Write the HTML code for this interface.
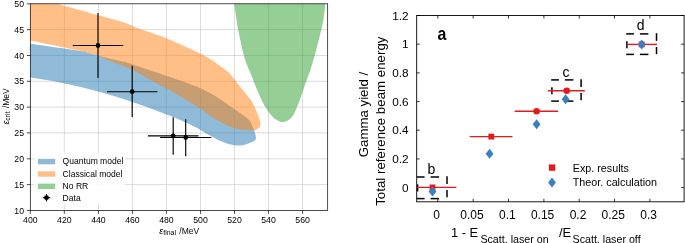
<!DOCTYPE html>
<html><head><meta charset="utf-8"><title>chart</title>
<style>
html,body{margin:0;padding:0;background:#fff;}
body{width:685px;height:243px;overflow:hidden;}
svg{display:block;opacity:0.999;will-change:transform;}
text{font-family:"Liberation Sans",sans-serif;fill:#000;}
</style></head><body>
<svg width="685" height="243" viewBox="0 0 685 243">
<rect width="685" height="243" fill="#fff"/>
<defs><clipPath id="cl"><rect x="30.3" y="3.8" width="297.4" height="206.6"/></clipPath></defs>

<g stroke="#b0b0b0" stroke-width="0.6" opacity="0.75">
<line x1="64.3" y1="3.8" x2="64.3" y2="210.4"/>
<line x1="98.4" y1="3.8" x2="98.4" y2="210.4"/>
<line x1="132.4" y1="3.8" x2="132.4" y2="210.4"/>
<line x1="166.4" y1="3.8" x2="166.4" y2="210.4"/>
<line x1="200.5" y1="3.8" x2="200.5" y2="210.4"/>
<line x1="234.5" y1="3.8" x2="234.5" y2="210.4"/>
<line x1="268.5" y1="3.8" x2="268.5" y2="210.4"/>
<line x1="302.6" y1="3.8" x2="302.6" y2="210.4"/>
<line x1="30.3" y1="184.6" x2="327.7" y2="184.6"/>
<line x1="30.3" y1="158.8" x2="327.7" y2="158.8"/>
<line x1="30.3" y1="132.9" x2="327.7" y2="132.9"/>
<line x1="30.3" y1="107.1" x2="327.7" y2="107.1"/>
<line x1="30.3" y1="81.3" x2="327.7" y2="81.3"/>
<line x1="30.3" y1="55.5" x2="327.7" y2="55.5"/>
<line x1="30.3" y1="29.6" x2="327.7" y2="29.6"/>
</g>
<g clip-path="url(#cl)">
<path d="M24.0,43.0C32.9,44.3 65.4,48.6 77.4,50.6C89.4,52.6 90.5,53.8 95.9,55.1C101.3,56.5 105.2,57.6 110.0,58.7C114.8,59.9 120.2,60.7 125.0,62.0C129.8,63.3 131.7,64.1 138.8,66.5C145.9,68.9 157.6,72.7 167.6,76.2C177.6,79.7 191.7,84.6 198.8,87.4C205.9,90.2 206.4,91.1 210.0,93.1C213.6,95.1 216.9,97.0 220.3,99.2C223.7,101.4 227.1,104.0 230.5,106.4C233.9,108.8 237.6,111.2 240.8,113.6C244.0,115.9 247.6,118.4 249.5,120.5C251.4,122.6 251.6,124.6 252.4,126.3C253.2,128.0 253.6,129.1 254.2,130.8C254.8,132.5 255.6,134.9 255.8,136.4C256.0,137.9 256.1,138.9 255.4,139.9C254.7,140.9 252.9,141.5 251.4,142.2C249.9,142.9 248.1,143.8 246.4,144.3C244.8,144.8 243.4,145.2 241.5,145.4C239.6,145.6 237.3,145.5 234.9,145.2C232.5,144.9 229.4,144.2 226.8,143.4C224.2,142.6 221.9,141.6 219.4,140.5C216.9,139.4 214.9,138.3 212.0,136.7C209.1,135.1 205.0,132.7 202.1,131.0C199.2,129.3 197.9,128.4 194.7,126.8C191.5,125.2 187.1,123.1 183.0,121.3C178.9,119.5 177.1,118.6 170.0,115.8C162.9,113.0 150.1,108.1 140.3,104.7C130.6,101.3 121.1,98.1 111.5,95.2C101.9,92.3 92.3,89.7 82.7,87.4C73.1,85.1 63.6,83.1 53.8,81.2C44.0,79.3 29.0,77.0 24.0,76.2Z" fill="#1f77b4" fill-opacity="0.5"/>
<path d="M24.0,-6.0C29.7,-4.3 43.7,-0.1 58.0,4.0C72.3,8.1 98.8,15.4 110.0,18.5C121.2,21.6 120.2,21.1 125.0,22.8C129.8,24.5 131.7,26.0 138.8,28.6C145.9,31.2 158.0,34.9 167.6,38.7C177.2,42.6 189.4,48.3 196.5,51.7C203.6,55.1 204.8,55.6 210.0,58.9C215.2,62.2 223.4,68.0 227.6,71.5C231.8,75.0 232.6,77.1 235.0,80.0C237.4,82.9 239.3,85.6 242.0,89.0C244.7,92.4 248.6,96.7 251.0,100.3C253.4,103.9 254.8,107.4 256.2,110.5C257.6,113.6 258.6,116.6 259.3,118.8C260.0,121.0 260.5,122.5 260.5,123.9C260.5,125.3 260.0,126.4 259.3,127.4C258.6,128.4 257.2,129.2 256.2,129.7C255.2,130.2 255.7,130.5 253.1,130.5C250.5,130.5 244.6,130.1 240.8,129.5C237.0,128.9 233.9,128.3 230.5,127.0C227.1,125.7 223.7,123.7 220.3,121.8C216.9,119.9 213.6,118.1 210.0,115.7C206.4,113.3 203.1,110.4 198.8,107.6C194.5,104.8 189.2,101.8 184.4,98.9C179.6,96.0 174.2,92.7 170.0,90.3C165.8,87.9 164.2,87.6 159.0,84.8C153.8,82.0 144.0,76.1 138.8,73.3C133.6,70.5 132.8,69.8 128.0,67.7C123.2,65.7 115.3,63.1 110.0,61.0C104.7,58.9 101.3,56.9 95.9,55.1C90.5,53.3 89.4,52.9 77.4,50.2C65.4,47.6 32.9,41.0 24.0,39.2Z" fill="#ff7f0e" fill-opacity="0.5"/>
<path d="M233.8,-4.0C233.9,-2.8 233.5,-2.5 234.2,3.0C234.9,8.5 236.4,20.2 238.0,28.8C239.6,37.4 242.2,48.8 243.7,54.8C245.2,60.8 245.7,61.5 247.0,65.0C248.3,68.5 250.1,72.0 251.7,76.0C253.3,80.0 254.7,84.3 256.6,88.8C258.5,93.3 261.0,99.1 263.2,103.2C265.4,107.3 267.6,110.7 269.6,113.3C271.6,115.9 273.4,117.6 275.3,119.1C277.2,120.5 279.2,121.7 281.1,122.0C283.0,122.3 285.0,122.1 286.9,121.1C288.8,120.1 291.1,118.2 292.6,116.2C294.1,114.2 294.8,112.1 296.1,109.0C297.5,105.9 299.1,101.8 300.7,97.5C302.3,93.2 304.1,87.3 305.6,83.0C307.1,78.7 308.6,75.3 309.9,71.5C311.2,67.7 312.5,62.8 313.4,60.0C314.2,57.2 313.6,60.0 315.0,54.8C316.4,49.6 320.0,35.0 321.5,28.8C323.0,22.6 323.2,21.6 323.8,17.3C324.4,13.0 325.0,6.6 325.3,3.0C325.6,-0.6 325.7,-2.8 325.8,-4.0Z" fill="#2ca02c" fill-opacity="0.5"/>
</g>
<g stroke="#000" stroke-width="1.15" fill="#000">
<line x1="72.8" y1="45.5" x2="123.2" y2="45.5"/>
<line x1="98.0" y1="13.0" x2="98.0" y2="78.0"/>
<circle cx="98.0" cy="45.5" r="2.4" stroke="none"/>
<line x1="107.0" y1="91.7" x2="157.4" y2="91.7"/>
<line x1="132.2" y1="65.8" x2="132.2" y2="117.1"/>
<circle cx="132.2" cy="91.7" r="2.4" stroke="none"/>
<line x1="147.9" y1="135.8" x2="198.5" y2="135.8"/>
<line x1="173.2" y1="117.3" x2="173.2" y2="154.8"/>
<circle cx="173.2" cy="135.8" r="2.4" stroke="none"/>
<line x1="160.1" y1="137.5" x2="211.3" y2="137.5"/>
<line x1="185.7" y1="119.3" x2="185.7" y2="156.2"/>
<circle cx="185.7" cy="137.5" r="2.4" stroke="none"/>
</g>
<rect x="34" y="152.5" width="91" height="52" rx="1.5" fill="#fff" fill-opacity="0.85"/>
<rect x="37.9" y="158.9" width="17.3" height="5.4" fill="#1f77b4" fill-opacity="0.5"/>
<text x="62.6" y="164.2" font-size="8.55">Quantum model</text>
<rect x="37.9" y="171.3" width="17.3" height="5.4" fill="#ff7f0e" fill-opacity="0.5"/>
<text x="62.6" y="176.6" font-size="8.55">Classical model</text>
<rect x="37.9" y="183.6" width="17.3" height="5.4" fill="#2ca02c" fill-opacity="0.5"/>
<text x="62.6" y="188.9" font-size="8.55">No RR</text>
<g stroke="#000" stroke-width="1.1"><line x1="42.8" y1="197.7" x2="50.2" y2="197.7"/><line x1="46.5" y1="194" x2="46.5" y2="201.4"/></g><circle cx="46.5" cy="197.7" r="2.4"/>
<text x="62.6" y="200.6" font-size="8.55">Data</text>
<rect x="30.3" y="3.8" width="297.4" height="206.6" fill="none" stroke="#000" stroke-width="0.7"/>
<g stroke="#000" stroke-width="0.7">
<line x1="30.3" y1="210.4" x2="30.3" y2="213.9"/>
<line x1="64.3" y1="210.4" x2="64.3" y2="213.9"/>
<line x1="98.4" y1="210.4" x2="98.4" y2="213.9"/>
<line x1="132.4" y1="210.4" x2="132.4" y2="213.9"/>
<line x1="166.4" y1="210.4" x2="166.4" y2="213.9"/>
<line x1="200.5" y1="210.4" x2="200.5" y2="213.9"/>
<line x1="234.5" y1="210.4" x2="234.5" y2="213.9"/>
<line x1="268.5" y1="210.4" x2="268.5" y2="213.9"/>
<line x1="302.6" y1="210.4" x2="302.6" y2="213.9"/>
<line x1="26.8" y1="210.4" x2="30.3" y2="210.4"/>
<line x1="26.8" y1="184.6" x2="30.3" y2="184.6"/>
<line x1="26.8" y1="158.8" x2="30.3" y2="158.8"/>
<line x1="26.8" y1="132.9" x2="30.3" y2="132.9"/>
<line x1="26.8" y1="107.1" x2="30.3" y2="107.1"/>
<line x1="26.8" y1="81.3" x2="30.3" y2="81.3"/>
<line x1="26.8" y1="55.5" x2="30.3" y2="55.5"/>
<line x1="26.8" y1="29.6" x2="30.3" y2="29.6"/>
<line x1="26.8" y1="3.8" x2="30.3" y2="3.8"/>
</g>
<g font-size="8.7" text-anchor="middle">
<text x="30.3" y="223.4">400</text>
<text x="64.3" y="223.4">420</text>
<text x="98.4" y="223.4">440</text>
<text x="132.4" y="223.4">460</text>
<text x="166.4" y="223.4">480</text>
<text x="200.5" y="223.4">500</text>
<text x="234.5" y="223.4">520</text>
<text x="268.5" y="223.4">540</text>
<text x="302.6" y="223.4">560</text>
</g><g font-size="8.7" text-anchor="end">
<text x="24" y="213.5">10</text>
<text x="24" y="187.7">15</text>
<text x="24" y="161.8">20</text>
<text x="24" y="136.0">25</text>
<text x="24" y="110.2">30</text>
<text x="24" y="84.4">35</text>
<text x="24" y="58.6">40</text>
<text x="24" y="32.7">45</text>
<text x="24" y="6.9">50</text>
</g>
<text x="159.3" y="233.6" font-size="8.5"><tspan font-style="italic" font-size="9">ε</tspan><tspan font-size="6.9" dy="1.4">final</tspan><tspan dy="-1.4" dx="1"> /MeV</tspan></text>
<text transform="translate(8.9,124.6) rotate(-90)" font-size="8.5"><tspan font-style="italic" font-size="9">ε</tspan><tspan font-size="6.9" dy="1.4">crit</tspan><tspan dy="-1.4" dx="1"> /MeV</tspan></text>
<rect x="416.7" y="15.5" width="267.4" height="186.3" fill="none" stroke="#000" stroke-width="0.9"/>
<g stroke="#000" stroke-width="0.8">
<line x1="437.8" y1="201.8" x2="437.8" y2="198.8"/>
<line x1="437.8" y1="15.5" x2="437.8" y2="18.5"/>
<line x1="473.2" y1="201.8" x2="473.2" y2="198.8"/>
<line x1="473.2" y1="15.5" x2="473.2" y2="18.5"/>
<line x1="508.5" y1="201.8" x2="508.5" y2="198.8"/>
<line x1="508.5" y1="15.5" x2="508.5" y2="18.5"/>
<line x1="543.9" y1="201.8" x2="543.9" y2="198.8"/>
<line x1="543.9" y1="15.5" x2="543.9" y2="18.5"/>
<line x1="579.2" y1="201.8" x2="579.2" y2="198.8"/>
<line x1="579.2" y1="15.5" x2="579.2" y2="18.5"/>
<line x1="614.5" y1="201.8" x2="614.5" y2="198.8"/>
<line x1="614.5" y1="15.5" x2="614.5" y2="18.5"/>
<line x1="649.9" y1="201.8" x2="649.9" y2="198.8"/>
<line x1="649.9" y1="15.5" x2="649.9" y2="18.5"/>
<line x1="416.7" y1="187.6" x2="419.7" y2="187.6"/>
<line x1="684.1" y1="187.6" x2="681.1" y2="187.6"/>
<line x1="416.7" y1="158.9" x2="419.7" y2="158.9"/>
<line x1="684.1" y1="158.9" x2="681.1" y2="158.9"/>
<line x1="416.7" y1="130.2" x2="419.7" y2="130.2"/>
<line x1="684.1" y1="130.2" x2="681.1" y2="130.2"/>
<line x1="416.7" y1="101.6" x2="419.7" y2="101.6"/>
<line x1="684.1" y1="101.6" x2="681.1" y2="101.6"/>
<line x1="416.7" y1="72.9" x2="419.7" y2="72.9"/>
<line x1="684.1" y1="72.9" x2="681.1" y2="72.9"/>
<line x1="416.7" y1="44.2" x2="419.7" y2="44.2"/>
<line x1="684.1" y1="44.2" x2="681.1" y2="44.2"/>
<line x1="416.7" y1="15.5" x2="419.7" y2="15.5"/>
<line x1="684.1" y1="15.5" x2="681.1" y2="15.5"/>
</g>
<g font-size="12" text-anchor="middle">
<text x="436.6" y="218.8">0</text>
<text x="472.0" y="218.8">0.05</text>
<text x="507.3" y="218.8">0.1</text>
<text x="542.6" y="218.8">0.15</text>
<text x="578.0" y="218.8">0.2</text>
<text x="613.3" y="218.8">0.25</text>
<text x="648.7" y="218.8">0.3</text>
</g><g font-size="11.8" text-anchor="end">
<text x="408.6" y="191.6">0</text>
<text x="408.6" y="162.9">0.2</text>
<text x="408.6" y="134.2">0.4</text>
<text x="408.6" y="105.6">0.6</text>
<text x="408.6" y="76.9">0.8</text>
<text x="408.6" y="48.2">1</text>
<text x="408.6" y="19.5">1.2</text>
</g>
<g fill="none" stroke="#000" stroke-width="1.5">
<line x1="416.9" y1="177.0" x2="424.6" y2="177.0"/><line x1="430.6" y1="177.0" x2="439.1" y2="177.0"/><line x1="416.9" y1="198.6" x2="424.6" y2="198.6"/><line x1="430.6" y1="198.6" x2="439.1" y2="198.6"/><line x1="447.0" y1="176.3" x2="447.0" y2="184.0"/><line x1="447.0" y1="190.0" x2="447.0" y2="197.3"/><line x1="417.6" y1="184.4" x2="417.6" y2="191.4"/>
<line x1="551.2" y1="79.9" x2="558.9" y2="79.9"/><line x1="564.9" y1="79.9" x2="573.4" y2="79.9"/><line x1="551.2" y1="101.1" x2="558.9" y2="101.1"/><line x1="564.9" y1="101.1" x2="573.4" y2="101.1"/><line x1="581.1" y1="79.2" x2="581.1" y2="86.9"/><line x1="581.1" y1="92.9" x2="581.1" y2="100.2"/><line x1="551.9" y1="87.3" x2="551.9" y2="94.3"/>
<line x1="626.2" y1="33.9" x2="633.9" y2="33.9"/><line x1="639.9" y1="33.9" x2="648.4" y2="33.9"/><line x1="626.2" y1="54.4" x2="633.9" y2="54.4"/><line x1="639.9" y1="54.4" x2="648.4" y2="54.4"/><line x1="656.5" y1="33.2" x2="656.5" y2="40.9"/><line x1="656.5" y1="46.9" x2="656.5" y2="54.2"/><line x1="626.9" y1="41.3" x2="626.9" y2="48.3"/>
</g>
<line x1="416.5" y1="187.4" x2="456.4" y2="187.4" stroke="#e41a1c" stroke-width="1.4"/>
<rect x="429.6" y="184.5" width="5.8" height="5.8" fill="#e41a1c"/>
<line x1="469.7" y1="136.6" x2="512.5" y2="136.6" stroke="#e41a1c" stroke-width="1.4"/>
<rect x="488.4" y="133.7" width="5.8" height="5.8" fill="#e41a1c"/>
<line x1="514.7" y1="111.3" x2="558.1" y2="111.3" stroke="#e41a1c" stroke-width="1.4"/>
<circle cx="536.6" cy="111.3" r="3.3" fill="#e41a1c"/>
<line x1="547.9" y1="90.8" x2="584.8" y2="90.8" stroke="#e41a1c" stroke-width="1.4"/>
<circle cx="566.7" cy="90.8" r="3.3" fill="#e41a1c"/>
<line x1="627.3" y1="44.4" x2="656.9" y2="44.4" stroke="#e41a1c" stroke-width="1.4"/>
<rect x="638.8" y="41.5" width="5.8" height="5.8" fill="#e41a1c"/>
<path d="M432.5,186.5 l3.9,5 l-3.9,5 l-3.9,-5 z" fill="#3a7fc1"/>
<path d="M489.6,148.7 l3.9,5 l-3.9,5 l-3.9,-5 z" fill="#3a7fc1"/>
<path d="M536.6,119.3 l3.9,5 l-3.9,5 l-3.9,-5 z" fill="#3a7fc1"/>
<path d="M565.6,94.3 l3.9,5 l-3.9,5 l-3.9,-5 z" fill="#3a7fc1"/>
<path d="M641.7,39.4 l3.9,5 l-3.9,5 l-3.9,-5 z" fill="#3a7fc1"/>
<text transform="translate(437.5,39.7) scale(0.88,1)" font-size="18" font-weight="bold">a</text>
<text x="431.4" y="173.8" font-size="14" text-anchor="middle">b</text>
<text x="566" y="77" font-size="14" text-anchor="middle">c</text>
<text x="640.7" y="30.3" font-size="14" text-anchor="middle">d</text>
<rect x="548.9" y="164.4" width="6.4" height="6.4" fill="#e41a1c"/>
<path d="M552,177.4 l3.9,5 l-3.9,5 l-3.9,-5 z" fill="#3a7fc1"/>
<text x="572.8" y="171.9" font-size="10.75">Exp. results</text>
<text x="572.8" y="186.2" font-size="10.75">Theor. calculation</text>
<text x="450.9" y="236.5" font-size="12.9">1 - E</text>
<text x="480.4" y="243.3" font-size="10.7">Scatt. laser on</text>
<text x="559" y="236.5" font-size="12.9">/E</text>
<text x="572.5" y="243.3" font-size="10.7">Scatt. laser off</text>
<text transform="translate(368.3,157.3) rotate(-90)" font-size="13.25">Gamma yield /</text>
<text transform="translate(385.3,205.8) rotate(-90)" font-size="13.3">Total reference beam energy</text>
</svg></body></html>
